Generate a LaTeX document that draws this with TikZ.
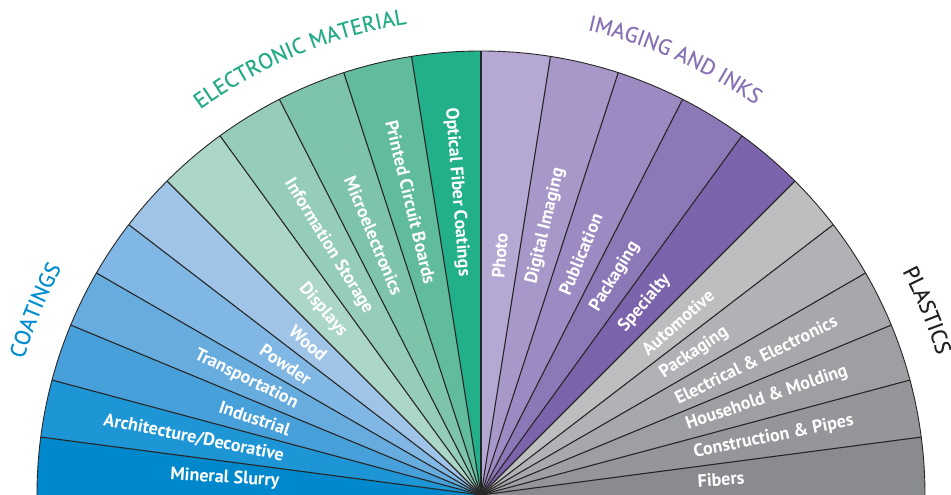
\documentclass[tikz,border=0pt]{standalone}
\usepackage{fontspec}
\setmainfont{PT Sans}
\newfontface\grpface{PT Sans}[FakeBold=0.3]
\usepackage{tikz}
\usetikzlibrary{decorations.text}

%kolory wycinkow
\definecolor{coA}{RGB}{0,136,204}
\definecolor{coB}{RGB}{30,150,214}
\definecolor{coC}{RGB}{72,160,218}
\definecolor{coD}{RGB}{102,172,222}
\definecolor{coE}{RGB}{128,183,228}
\definecolor{coF}{RGB}{160,196,232}
\definecolor{elA}{RGB}{172,214,198}
\definecolor{elB}{RGB}{150,205,184}
\definecolor{elC}{RGB}{126,196,170}
\definecolor{elD}{RGB}{96,188,156}
\definecolor{elE}{RGB}{34,176,138}
\definecolor{imA}{RGB}{181,168,210}
\definecolor{imB}{RGB}{168,152,202}
\definecolor{imC}{RGB}{157,138,195}
\definecolor{imD}{RGB}{141,120,183}
\definecolor{imE}{RGB}{124,99,171}
\definecolor{plA}{RGB}{189,190,192}
\definecolor{plB}{RGB}{177,178,181}
\definecolor{plC}{RGB}{167,168,171}
\definecolor{plD}{RGB}{158,159,162}
\definecolor{plE}{RGB}{149,150,153}
\definecolor{plF}{RGB}{138,139,143}
%kolory tytulow
\definecolor{coTxt}{RGB}{0,141,210}
\definecolor{elTxt}{RGB}{35,170,135}
\definecolor{imTxt}{RGB}{136,112,180}
\definecolor{plTxt}{RGB}{35,31,32}

\newcommand\grpfont{\grpface\fontsize{22}{22}\selectfont}

\tikzset{
  lab/.style={text=white, font=\bfseries\fontsize{18}{18}\selectfont, inner sep=0pt},
  rim/.style={draw=black!85, line width=1.1pt}
}

\begin{document}
\begin{tikzpicture}[x=1pt,y=1pt]
\useasboundingbox (-481,0) rectangle (470,495);

%wycinki
\foreach \a/\b/\c in {180/172.5/coA,172.5/165/coB,165/157.5/coC,157.5/150/coD,150/142.5/coE,142.5/135/coF,
    135/126/elA,126/117/elB,117/108/elC,108/99/elD,99/90/elE,
    90/81/imA,81/72/imB,72/63/imC,63/54/imD,54/45/imE,
    45/37.5/plA,37.5/30/plB,30/22.5/plC,22.5/15/plD,15/7.5/plE,7.5/0/plF}
    \fill[\c] (0,0) -- (\a:444) arc (\a:\b:444) -- cycle;

%granice
\foreach \a in {172.5,165,157.5,150,142.5,135,126,117,108,99,90,81,72,63,54,45,37.5,30,22.5,15,7.5}
    \draw[rim] (0,0) -- (\a:444);
\draw[draw=black!85, line width=0.9pt] (0:444) arc (0:180:444);

%opisy - lewa strona
\foreach \m/\r/\t/\n in {176.25/202/Mineral Slurry/ms,168.75/201/{Architecture/Decorative}/ad,161.25/202/Industrial/ind,
    153.75/205/Transportation/tr,146.25/206/Powder/pw,138.75/208/Wood/wd,
    130.5/211/Displays/dp,121.5/214/Information Storage/is,112.5/217/Microelectronics/me,
    103.5/217/Printed Circuit Boards/pcb,94.5/219/Optical Fiber Coatings/ofc}
    \node[lab, anchor=east, rotate=\m-180] (\n) at (\m:\r) {\t};

%opisy - prawa strona
\foreach \m/\t/\n in {85.5/Photo/ph,76.5/Digital Imaging/di,67.5/Publication/pu,58.5/Packaging/pk,49.5/Specialty/sp,
    41.25/Automotive/au,33.75/Packaging/pkp,26.25/Electrical \& Electronics/ee,18.75/Household \& Molding/hm,
    11.25/Construction \& Pipes/cp,3.75/Fibers/fb}
    \node[lab, anchor=west, rotate=\m] (\n) at (\m:217) {\t};

%tytuly grup
\path[decorate, decoration={text along path, text align=center, text color=coTxt, text={|\grpfont|COATINGS}}]
    (187.5:477) arc (187.5:127.5:477);
\path[decorate, decoration={text along path, text align=center, text color=elTxt, text={|\grpfont|ELECTRONIC MATERIAL}}]
    (142.5:477) arc (142.5:82.5:477);
\path[decorate, decoration={text along path, text align=center, text color=imTxt, text={|\grpfont|IMAGING AND INKS}}]
    (96:477) arc (96:36:477);
\path[decorate, decoration={text along path, text align=center, text color=plTxt, text={|\grpfont|PLASTICS}}]
    (52.5:477) arc (52.5:-7.5:477);

%end
\end{tikzpicture}
\end{document}
